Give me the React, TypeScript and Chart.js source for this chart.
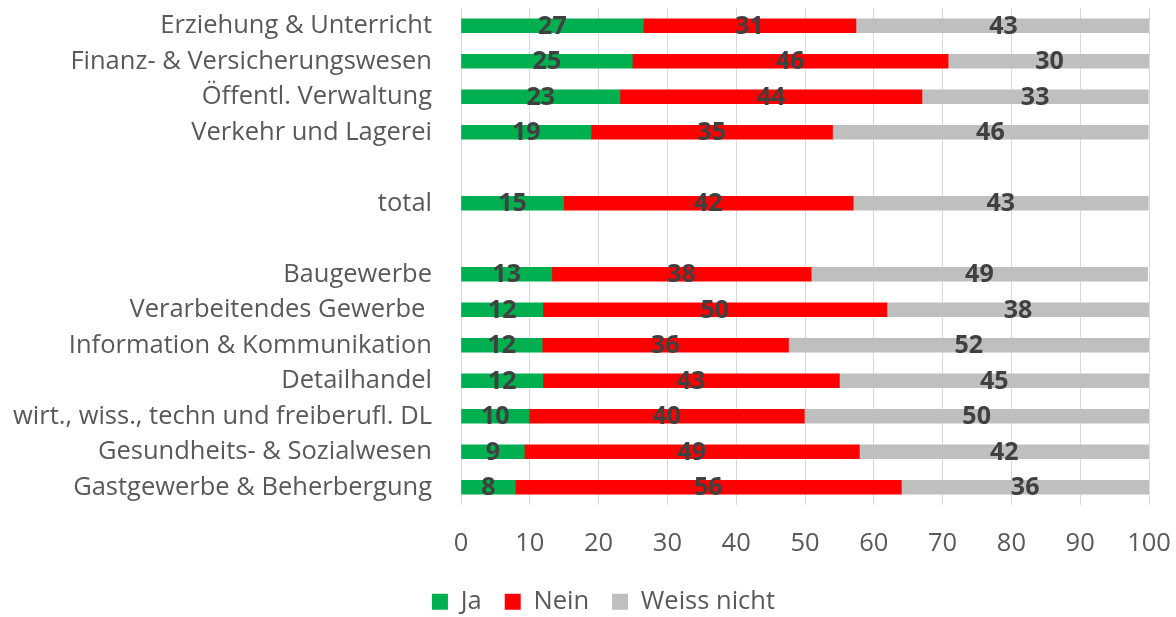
import React, { useEffect, useRef } from "react";
import { Chart, registerables } from "chart.js";

Chart.register(...registerables);

const categories = [
  "Erziehung & Unterricht",
  "Finanz- & Versicherungswesen",
  "Öffentl. Verwaltung",
  "Verkehr und Lagerei",
  "",
  "total",
  "",
  "Baugewerbe",
  "Verarbeitendes Gewerbe ",
  "Information & Kommunikation",
  "Detailhandel",
  "wirt., wiss., techn und freiberufl. DL",
  "Gesundheits- & Sozialwesen",
  "Gastgewerbe & Beherbergung",
];

const jaValues = [26.5, 24.9, 23.1, 18.9, null, 14.9, null, 13.2, 11.9, 11.8, 11.9, 9.9, 9.2, 7.9];
const neinValues = [30.9, 45.9, 43.9, 35.1, null, 42.1, null, 37.7, 50.0, 35.8, 43.1, 40.0, 48.7, 56.1];
const weissNichtValues = [42.9, 29.5, 32.9, 45.9, null, 42.9, null, 48.9, 38.1, 52.4, 45.0, 50.1, 42.1, 36.0];

const seriesNames = ["Ja", "Nein", "Weiss nicht"];
const seriesColors = ["#00B050", "#FF0000", "#BFBFBF"];

const FONT = '"Open Sans", "DejaVu Sans", sans-serif';
const TEXT_COLOR = "#595959";
const TEXT_SIZE = 25.5;

const valueLabels = {
  id: "valueLabels",
  afterDatasetsDraw(chart: any) {
    const ctx = chart.ctx;
    ctx.save();
    ctx.font = `bold 25px ${FONT}`;
    ctx.fillStyle = "#404040";
    ctx.textAlign = "center";
    ctx.textBaseline = "middle";
    chart.data.datasets.forEach((ds: any, di: number) => {
      const meta = chart.getDatasetMeta(di);
      meta.data.forEach((el: any, i: number) => {
        const v = ds.data[i];
        if (v == null) return;
        const { x, y, base } = el.getProps(["x", "y", "base"], true);
        ctx.fillText(String(Math.round(v)), (x + base) / 2, y + 1);
      });
    });
    ctx.restore();
  },
};

// shifts the (full-width) legend box so the centred items sit under the plot like the original
const legendOffset = {
  id: "legendOffset",
  afterLayout(chart: any) {
    if (chart.legend) {
      chart.legend.left += 29;
      chart.legend.right += 29;
    }
  },
};

export default function App() {
  const ref = useRef<HTMLCanvasElement>(null);

  useEffect(() => {
    document.body.style.margin = "0";
    const values = [jaValues, neinValues, weissNichtValues];
    const chart = new Chart(ref.current as HTMLCanvasElement, {
      type: "bar",
      data: {
        labels: categories,
        datasets: seriesNames.map((name, i) => ({
          label: name,
          data: values[i] as any,
          backgroundColor: seriesColors[i],
          borderWidth: 0,
          barThickness: 14,
        })),
      },
      options: {
        indexAxis: "y",
        animation: false,
        responsive: false,
        layout: { padding: { top: 8, right: 27, bottom: 0, left: 0 } },
        scales: {
          x: {
            stacked: true,
            min: 0,
            max: 100,
            ticks: {
              stepSize: 10,
              padding: 23,
              color: TEXT_COLOR,
              font: { family: FONT, size: TEXT_SIZE },
            },
            grid: { color: "#D9D9D9", lineWidth: 1, drawTicks: false },
            border: { display: false },
            afterFit: (s: any) => {
              s.height = 61;
              s.paddingLeft = 0;
              s.paddingRight = 0;
            },
          },
          y: {
            stacked: true,
            grid: { display: false, drawTicks: true, tickLength: 29 },
            border: { display: false },
            ticks: {
              padding: 0,
              autoSkip: false,
              color: TEXT_COLOR,
              font: { family: FONT, size: TEXT_SIZE },
            },
            afterFit: (s: any) => {
              s.width = 461;
              s.paddingTop = 0;
              s.paddingBottom = 0;
            },
          },
        },
        plugins: {
          legend: {
            position: "bottom",
            maxHeight: 51,
            labels: {
              boxWidth: 16,
              boxHeight: 16,
              padding: 23,
              color: TEXT_COLOR,
              font: { family: FONT, size: TEXT_SIZE },
            },
          },
          tooltip: { enabled: false },
        },
      } as any,
      plugins: [valueLabels, legendOffset],
    });
    return () => chart.destroy();
  }, []);

  return (
    <div style={{ width: 1176, height: 617 }}>
      <canvas ref={ref} width={1176} height={617} style={{ display: "block" }} />
    </div>
  );
}
